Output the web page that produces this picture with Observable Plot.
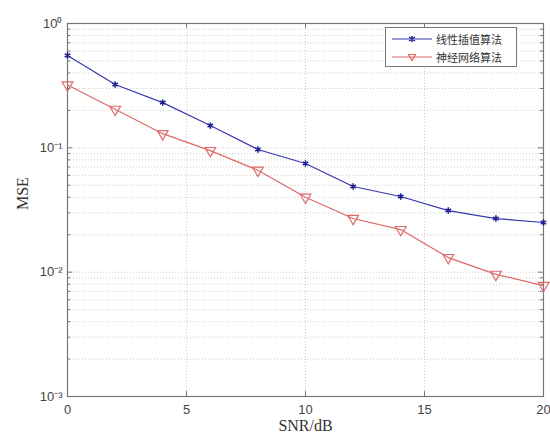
<!DOCTYPE html>
<html>
<head>
<meta charset="utf-8">
<script src="https://cdn.jsdelivr.net/npm/d3@7"></script>
<script src="https://cdn.jsdelivr.net/npm/@observablehq/plot@0.6"></script>
<style>
  body { margin: 0; background: #fff; }
  #wrap { position: relative; width: 550px; height: 436px; }
  #legend {
    position: absolute; left: 385px; top: 27px; width: 132px; height: 40px;
    border: 1px solid #777; background: #fff; box-sizing: border-box;
    font-family: "Noto Sans CJK SC", sans-serif; font-size: 11px; color: #333;
  }
  .row { position: absolute; left: 0; height: 16px; display: flex; align-items: center; }
  .row svg { margin-left: 6px; margin-right: 4px; }
</style>
</head>
<body>
<div id="wrap">
  <div id="chart"></div>
  <div id="legend"></div>
</div>
<script>
const snr = [0, 2, 4, 6, 8, 10, 12, 14, 16, 18, 20];
const mseLinear = [0.553, 0.323, 0.231, 0.151, 0.097, 0.0748, 0.0489, 0.0406, 0.0313, 0.027, 0.0251];
const mseNeural = [0.32, 0.204, 0.13, 0.095, 0.066, 0.040, 0.027, 0.022, 0.0131, 0.0096, 0.0078];
const seriesNames = ["线性插值算法", "神经网络算法"];
const xTicks = [0, 5, 10, 15, 20];
const yTicks = [1e-3, 1e-2, 1e-1, 1];
const yTickLabels = ["10⁻³", "10⁻²", "10⁻¹", "10⁰"];

const blue = "#3838b0";
const red = "#e06868";

const data = [
  ...snr.map((s, i) => ({snr: s, mse: mseLinear[i], series: seriesNames[0]})),
  ...snr.map((s, i) => ({snr: s, mse: mseNeural[i], series: seriesNames[1]}))
];
const minorY = [];
for (let e = -3; e < 0; e++) for (let k = 2; k <= 9; k++) minorY.push(k * Math.pow(10, e));
const allY = yTicks.concat(minorY);

const up = Math.pow(10, 5 / 124);   // tick length in log space
const upMinor = Math.pow(10, 3 / 124);

const plot = Plot.plot({
  width: 550,
  height: 436,
  marginLeft: 67,
  marginRight: 7,
  marginTop: 23,
  marginBottom: 40,
  style: {fontFamily: "Liberation Sans, Arial, sans-serif", fontSize: "13px", color: "#444", background: "#fff"},
  x: {domain: [0, 20]},
  y: {type: "log", domain: [1e-3, 1]},
  marks: [
    // grid
    Plot.ruleY(allY.filter(v => v > 1e-3 && v < 1), {stroke: "#ccc", strokeDasharray: "1,2", strokeWidth: 1}),
    Plot.ruleX(xTicks.filter(v => v > 0 && v < 20), {stroke: "#ccc", strokeDasharray: "1,2", strokeWidth: 1}),
    // inward ticks
    Plot.ruleY(yTicks, {x1: 0, x2: 0.22, stroke: "#777"}),
    Plot.ruleY(yTicks, {x1: 20, x2: 19.78, stroke: "#777"}),
    Plot.ruleY(minorY, {x1: 0, x2: 0.13, stroke: "#777"}),
    Plot.ruleY(minorY, {x1: 20, x2: 19.87, stroke: "#777"}),
    Plot.ruleX(xTicks, {y1: 1e-3, y2: 1e-3 * up, stroke: "#777"}),
    Plot.ruleX(xTicks, {y1: 1, y2: 1 / up, stroke: "#777"}),
    Plot.frame({stroke: "#777", strokeWidth: 1.2}),
    // axes
    Plot.axisX({ticks: xTicks, tickSize: 0, tickPadding: 8, label: null, fontSize: 13}),
    Plot.axisY({ticks: yTicks, tickSize: 0, tickPadding: 5, label: null, fontSize: 13,
      tickFormat: (d) => yTickLabels[yTicks.indexOf(d)] ?? ""}),
    Plot.text(["SNR/dB"], {frameAnchor: "bottom", dy: 34, fontFamily: "Liberation Serif, serif", fontSize: 16, fill: "#333"}),
    Plot.text(["MSE"], {frameAnchor: "left", dx: -45, rotate: -90, fontFamily: "Liberation Serif, serif", fontSize: 16, fill: "#333"}),
    // data
    Plot.line(data, {x: "snr", y: "mse", z: "series", stroke: (d) => d.series === seriesNames[0] ? blue : red, strokeWidth: 1.2}),
    Plot.dot(data.filter(d => d.series === seriesNames[0]), {x: "snr", y: "mse", symbol: "asterisk", r: 3, stroke: "#202090", strokeWidth: 1.5}),
    Plot.dot(data.filter(d => d.series === seriesNames[1]), {x: "snr", y: "mse", symbol: "triangle", rotate: 180, r: 4, stroke: red, fill: "none", strokeWidth: 1.2})
  ]
});
document.getElementById("chart").append(plot);

// legend
const legend = document.getElementById("legend");
const styles = [
  {color: blue, marker: `<path d="M20,4 L20,10 M17,5 L23,9 M17,9 L23,5" stroke="#202090" stroke-width="1.5"/>`},
  {color: red, marker: `<path d="M16.5,4.5 L23.5,4.5 L20,10.5 Z" stroke="${red}" fill="none" stroke-width="1.2"/>`}
];
seriesNames.forEach((name, i) => {
  const row = document.createElement("div");
  row.className = "row";
  row.style.top = (3 + i * 18) + "px";
  row.innerHTML = `<svg width="40" height="14"><line x1="0" y1="7" x2="40" y2="7" stroke="${styles[i].color}" stroke-width="1.2"/>${styles[i].marker}</svg><span>${name}</span>`;
  legend.append(row);
});
</script>
</body>
</html>
